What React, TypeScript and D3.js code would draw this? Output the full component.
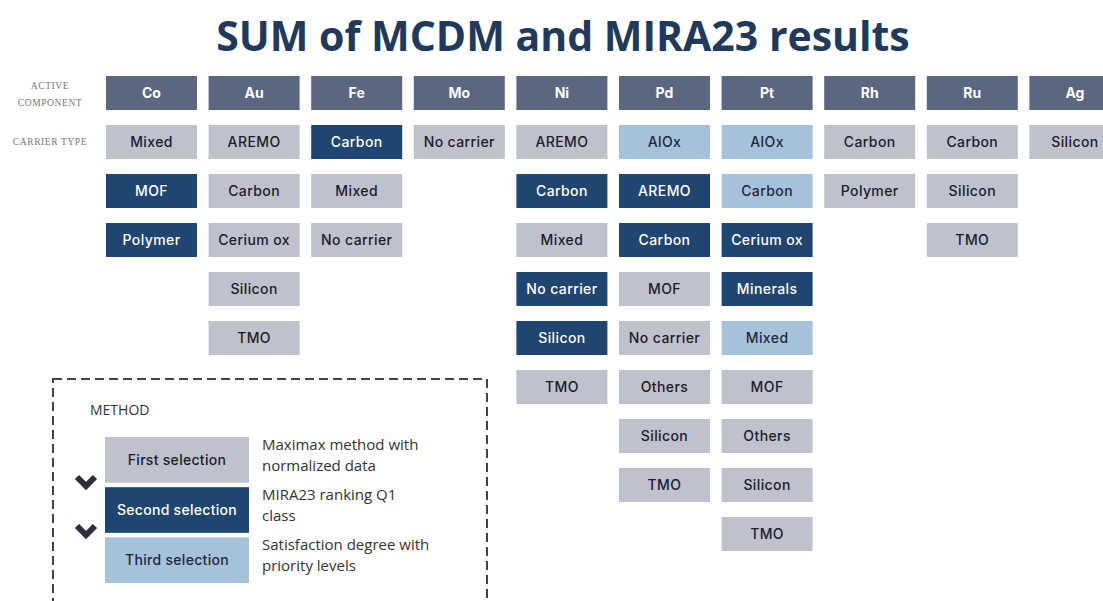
import React from "react";
import * as d3 from "d3";

const title = "SUM of MCDM and MIRA23 results";
const components = ["Co", "Au", "Fe", "Mo", "Ni", "Pd", "Pt", "Rh", "Ru", "Ag"];
// selection level: 1 = first (grey), 2 = second (dark blue), 3 = third (light blue)
const carriers: Record<string, [string, number][]> = {
  Co: [["Mixed", 1], ["MOF", 2], ["Polymer", 2]],
  Au: [["AREMO", 1], ["Carbon", 1], ["Cerium ox", 1], ["Silicon", 1], ["TMO", 1]],
  Fe: [["Carbon", 2], ["Mixed", 1], ["No carrier", 1]],
  Mo: [["No carrier", 1]],
  Ni: [["AREMO", 1], ["Carbon", 2], ["Mixed", 1], ["No carrier", 2], ["Silicon", 2], ["TMO", 1]],
  Pd: [["AlOx", 3], ["AREMO", 2], ["Carbon", 2], ["MOF", 1], ["No carrier", 1], ["Others", 1], ["Silicon", 1], ["TMO", 1]],
  Pt: [["AlOx", 3], ["Carbon", 3], ["Cerium ox", 2], ["Minerals", 2], ["Mixed", 3], ["MOF", 1], ["Others", 1], ["Silicon", 1], ["TMO", 1]],
  Rh: [["Carbon", 1], ["Polymer", 1]],
  Ru: [["Carbon", 1], ["Silicon", 1], ["TMO", 1]],
  Ag: [["Silicon", 1]],
};
const legendLevels = [1, 2, 3];
const legendLabels = ["First selection", "Second selection", "Third selection"];
const legendDesc = [
  ["Maximax method with", "normalized data"],
  ["MIRA23 ranking Q1", "class"],
  ["Satisfaction degree with", "priority levels"],
];

const fillFor: Record<number, string> = { 1: "#bfc2cc", 2: "#1f4670", 3: "#a6c1db" };
const textFor: Record<number, string> = { 1: "#1c1c2a", 2: "#ffffff", 3: "#1c2a3c" };
const headerFill = "#5b6680";

const cellFont = "Inter, 'Open Sans', sans-serif";

export default function App() {
  const W = 1103, H = 601;
  const x = d3.scaleBand<string>().domain(components).range([106, 106 + 10 * 102.6 - 11.6]).paddingInner(11.6 / 102.6).paddingOuter(0);
  const rows = d3.range(10);
  const y = d3.scaleBand<number>().domain(rows).range([76, 76 + 10 * 49 - 15]).paddingInner(15 / 49).paddingOuter(0);
  const bw = x.bandwidth();
  const bh = y.bandwidth();

  const ly = d3.scaleBand<number>().domain(legendLevels).range([437, 583]).paddingInner(0.09);

  return (
    <svg width={W} height={H} style={{ position: "absolute", left: 0, top: 0, background: "#fff" }}>
      <rect x={0} y={0} width={W} height={H} fill="#fff" />
      <text x={563} y={51} textAnchor="middle" fontFamily="'Open Sans', sans-serif" fontWeight={700} fontSize={41} fill="#213a5c">
        {title}
      </text>

      <g fontFamily="'Liberation Serif', serif" fontSize={9.5} fill="#777" textAnchor="middle" letterSpacing={0.6}>
        <text x={50} y={89}>ACTIVE</text>
        <text x={50} y={106}>COMPONENT</text>
        <text x={50} y={145}>CARRIER TYPE</text>
      </g>

      {components.map((c) => (
        <g key={c}>
          <rect x={x(c)} y={y(0)} width={bw} height={bh} fill={headerFill} />
          <text x={(x(c) as number) + bw / 2} y={(y(0) as number) + bh / 2 + 5} textAnchor="middle" fontFamily={cellFont} fontWeight={700} fontSize={14} fill="#fff">
            {c}
          </text>
          {carriers[c].map(([name, lvl], i) => (
            <g key={name + i}>
              <rect x={x(c)} y={y(i + 1)} width={bw} height={bh} fill={fillFor[lvl]} />
              <text x={(x(c) as number) + bw / 2} y={(y(i + 1) as number) + bh / 2 + 5} textAnchor="middle" fontFamily={cellFont} fontWeight={500} fontSize={14} letterSpacing={0.4} fill={textFor[lvl]}>
                {name}
              </text>
            </g>
          ))}
        </g>
      ))}

      <rect x={53} y={379} width={434} height={240} fill="none" stroke="#444" strokeWidth={2} strokeDasharray="9 5" />
      <text x={90} y={415} fontFamily="'Open Sans', sans-serif" fontSize={14} fill="#333">METHOD</text>
      {legendLevels.map((lvl, i) => {
        const yy = ly(lvl) as number;
        const h = ly.bandwidth();
        return (
          <g key={lvl}>
            <rect x={105} y={yy} width={144} height={h} fill={fillFor[lvl]} />
            <text x={177} y={yy + h / 2 + 5} textAnchor="middle" fontFamily={cellFont} fontWeight={500} fontSize={14} letterSpacing={0.3} fill={textFor[lvl]}>
              {legendLabels[i]}
            </text>
            {legendDesc[i].map((line, j) => (
              <text key={j} x={262} y={yy + 13 + j * 21} fontFamily="'Open Sans', sans-serif" fontSize={15} fill="#333">
                {line}
              </text>
            ))}
          </g>
        );
      })}
      {[481, 530].map((cy) => (
        <path key={cy} d={`M77,${cy - 4} L86,${cy + 5} L95,${cy - 4}`} fill="none" stroke="#2a2e3a" strokeWidth={6} strokeLinejoin="miter" />
      ))}
    </svg>
  );
}
